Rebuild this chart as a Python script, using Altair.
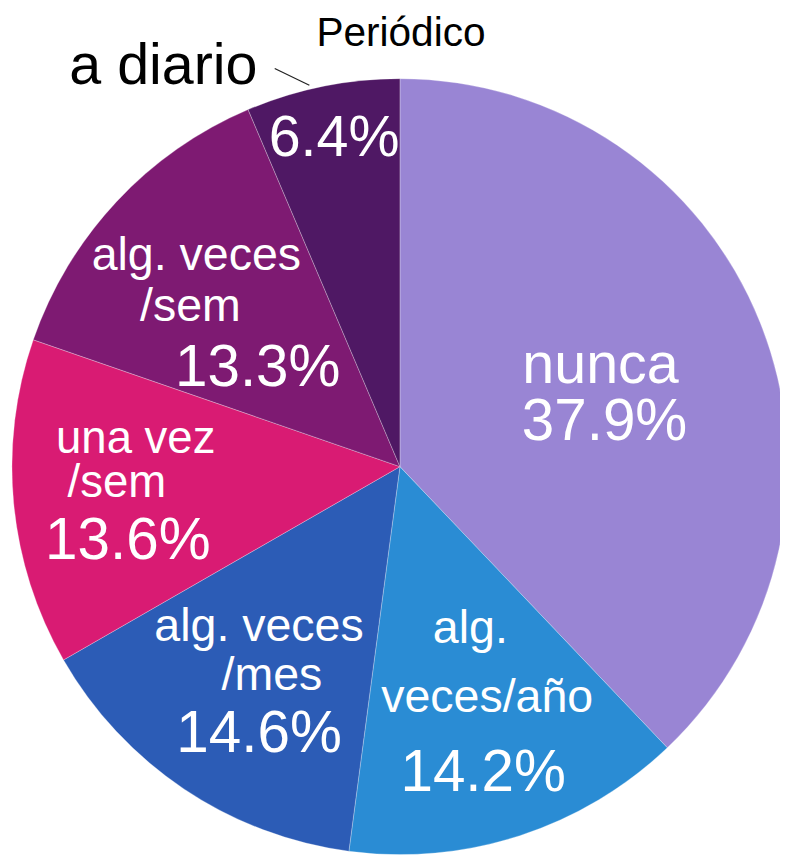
import math
import altair as alt
import pandas as pd

# ---- data ----
categories = ["nunca", "alg. veces/año", "alg. veces/mes", "una vez/sem", "alg. veces/sem", "a diario"]
percent = [37.9, 14.2, 14.6, 13.6, 13.3, 6.4]
colors = ["#9985d4", "#2a8cd4", "#2c5cb6", "#d91b73", "#7e1a72", "#4f1864"]
# label lines shown inside each slice (before the percentage)
label_lines = [["nunca"], ["alg.", "veces/año"], ["alg. veces", "/mes"], ["una vez", "/sem"], ["alg. veces", "/sem"], []]
title_text = "Periódico"

# ---- layout ----
W, H = 780, 847
CX, CY, R = 396, 459, 392
LABEL_R = 0.62 * R
# per-line offsets (dx, dy of baseline) from each slice's label anchor; last entry = percentage
line_offsets = [
    [(-23, 6), (-19, 63)],
    [(-4, -53), (13, 17), (9, 97)],
    [(-7, -26), (6, 24), (-7, 86)],
    [(-25, -37), (-44, 8), (-33, 70)],
    [(-28, -33), (-34, 19), (34, 84)],
    [(-18, -76)],
]
line_sizes = [[58, 59], [47, 47, 59], [47, 47, 59], [46, 46, 59], [47, 47, 59], [58]]

df = pd.DataFrame({"cat": categories, "pct": percent, "idx": list(range(len(categories)))})

# text rows derived from the data
total = sum(percent)
rows = []
cum = 0.0
for i, (cat, p) in enumerate(zip(categories, percent)):
    mid = (cum + p / 2) / total * 2 * math.pi
    cum += p
    ax = CX + LABEL_R * math.sin(mid)
    ay = CY - LABEL_R * math.cos(mid)
    texts = label_lines[i] + [f"{p:.1f}%"]
    for t, (dx, dy), s in zip(texts, line_offsets[i], line_sizes[i]):
        rows.append({"t": t, "x": ax + dx, "y": ay + dy, "s": s})
labels = pd.DataFrame(rows)

# outside labels: "a diario" with leader to its slice, and the title
start_diario = sum(percent[:-1]) / total * 2 * math.pi
lead_ang = start_diario + 0.42 * (percent[-1] / total) * 2 * math.pi
lx2 = CX + (R + 4) * math.sin(lead_ang)
ly2 = CY - (R + 4) * math.cos(lead_ang)
lx1, ly1 = lx2 - 35, ly2 - 17

base = alt.Chart(df)

pie = base.mark_arc(outerRadius=R, stroke="#ffffff", strokeWidth=0.6, strokeOpacity=0.45).encode(
    theta=alt.Theta("pct:Q", stack=True),
    order=alt.Order("idx:Q"),
    color=alt.Color("cat:N", scale=alt.Scale(domain=categories, range=colors), legend=None),
    x=alt.value(CX),
    y=alt.value(CY),
)

text = alt.Chart(labels).mark_text(
    color="white", align="center", baseline="alphabetic", font="Liberation Sans"
).encode(
    x=alt.X("x:Q", scale=None),
    y=alt.Y("y:Q", scale=None),
    text="t:N",
    size=alt.Size("s:Q", scale=None, legend=None),
)

outer = pd.DataFrame({"t": [categories[-1], title_text], "x": [157, 397], "y": [72, 34], "s": [58, 41]})
outer_text = alt.Chart(outer).mark_text(
    color="black", align="center", baseline="alphabetic", font="Liberation Sans"
).encode(
    x=alt.X("x:Q", scale=None),
    y=alt.Y("y:Q", scale=None),
    text="t:N",
    size=alt.Size("s:Q", scale=None, legend=None),
)

leader = alt.Chart(pd.DataFrame({"a": [0]})).mark_rule(color="#222222", strokeWidth=1.2).encode(
    x=alt.value(lx1), y=alt.value(ly1), x2=alt.value(lx2), y2=alt.value(ly2)
)

chart = alt.layer(pie, text, outer_text, leader).properties(
    width=W, height=H, autosize=alt.AutoSizeParams(type="none"), padding=0
).configure_view(stroke=None)

chart.save("out.html", embed_options={"renderer": "svg", "actions": False})
